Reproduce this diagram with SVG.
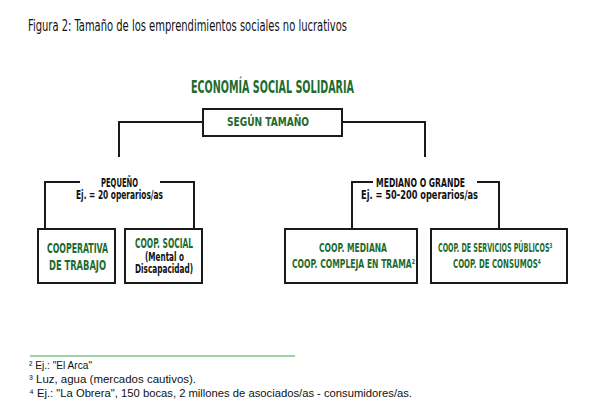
<svg xmlns="http://www.w3.org/2000/svg" width="597" height="414" viewBox="0 0 597 414">
<style>
.c{font-family:"DejaVu Sans Condensed","Liberation Sans Narrow","Liberation Sans",sans-serif;font-weight:bold}
.g{fill:#1d6b2f}
.k{fill:#111}
.box{fill:#fff;stroke:#1a1a1a;stroke-width:2}
.ln{fill:none;stroke:#1a1a1a;stroke-width:2}
.f{font-family:"Liberation Sans","Open Sans",sans-serif;font-size:11.5px;fill:#111}
.t{font-family:"DejaVu Sans Condensed","Liberation Sans Narrow","Liberation Sans",sans-serif;font-size:15.5px;fill:#111}
</style>
<rect width="597" height="414" fill="#fff"/>
<text class="t" x="28" y="31" textLength="319" lengthAdjust="spacingAndGlyphs">Figura 2: Tamaño de los emprendimientos sociales no lucrativos</text>
<text id="heading" class="c g" x="191" y="93" font-size="17.5" textLength="163" lengthAdjust="spacingAndGlyphs">ECONOMÍA SOCIAL SOLIDARIA</text>
<g id="connectors">
<polyline class="ln" points="203,122 119,122 119,157"/>
<polyline class="ln" points="342,122 425,122 425,157"/>
<polyline class="ln" points="80,182 45,182 45,229"/>
<polyline class="ln" points="160,182 194,182 194,229"/>
<polyline class="ln" points="373,182 352,182 352,229"/>
<polyline class="ln" points="477,182 499,182 499,229"/>
</g>
<g id="segun">
<rect class="box" x="203" y="109" width="139" height="27"/>
<text class="c g" x="227" y="126" font-size="13" textLength="82" lengthAdjust="spacingAndGlyphs">SEGÚN TAMAÑO</text>
</g>
<g id="pequeno">
<text class="c k" x="101" y="186.5" font-size="12" textLength="37" lengthAdjust="spacingAndGlyphs">PEQUEÑO</text>
<text class="c k" x="76" y="198.5" font-size="12" textLength="87" lengthAdjust="spacingAndGlyphs">Ej. = 20 operarios/as</text>
</g>
<g id="mediano">
<text class="c k" x="376" y="186.5" font-size="12" textLength="89" lengthAdjust="spacingAndGlyphs">MEDIANO O GRANDE</text>
<text class="c k" x="361" y="198.5" font-size="12" textLength="117" lengthAdjust="spacingAndGlyphs">Ej. = 50-200 operarios/as</text>
</g>
<g id="cooperativa">
<rect class="box" x="38" y="229" width="77" height="54"/>
<text class="c g" x="47" y="253" font-size="14" textLength="61" lengthAdjust="spacingAndGlyphs">COOPERATIVA</text>
<text class="c g" x="49" y="270" font-size="14" textLength="57" lengthAdjust="spacingAndGlyphs">DE TRABAJO</text>
</g>
<g id="social">
<rect class="box" x="125" y="229" width="77" height="54"/>
<text class="c g" x="135" y="248" font-size="14" textLength="58" lengthAdjust="spacingAndGlyphs">COOP. SOCIAL</text>
<text class="c k" x="145" y="261" font-size="11.5" textLength="39" lengthAdjust="spacingAndGlyphs">(Mental o</text>
<text class="c k" x="135" y="273" font-size="11.5" textLength="58" lengthAdjust="spacingAndGlyphs">Discapacidad)</text>
</g>
<g id="mediana">
<rect class="box" x="285" y="229" width="132" height="54"/>
<text class="c g" x="319" y="252" font-size="13" textLength="68" lengthAdjust="spacingAndGlyphs">COOP. MEDIANA</text>
<text class="c g" x="292" y="268" font-size="13" textLength="123" lengthAdjust="spacingAndGlyphs">COOP. COMPLEJA EN TRAMA²</text>
</g>
<g id="servicios">
<rect class="box" x="431" y="229" width="136" height="54"/>
<text class="c g" transform="translate(438,252) scale(0.545,1)" font-size="13">COOP. DE SERVICIOS PÚBLICOS³</text>
<text class="c g" transform="translate(453,268) scale(0.6,1)" font-size="13">COOP. DE CONSUMOS⁴</text>
</g>
<line x1="30" y1="356" x2="295" y2="356" stroke="#3aa64a" stroke-width="1.2"/>
<text class="f" x="29" y="369" textLength="63" lengthAdjust="spacingAndGlyphs">² Ej.: "El Arca"</text>
<text class="f" x="29" y="383" textLength="167" lengthAdjust="spacingAndGlyphs">³ Luz, agua (mercados cautivos).</text>
<text class="f" x="29" y="397" textLength="383" lengthAdjust="spacingAndGlyphs">⁴ Ej.: "La Obrera", 150 bocas, 2 millones de asociados/as - consumidores/as.</text>
</svg>
